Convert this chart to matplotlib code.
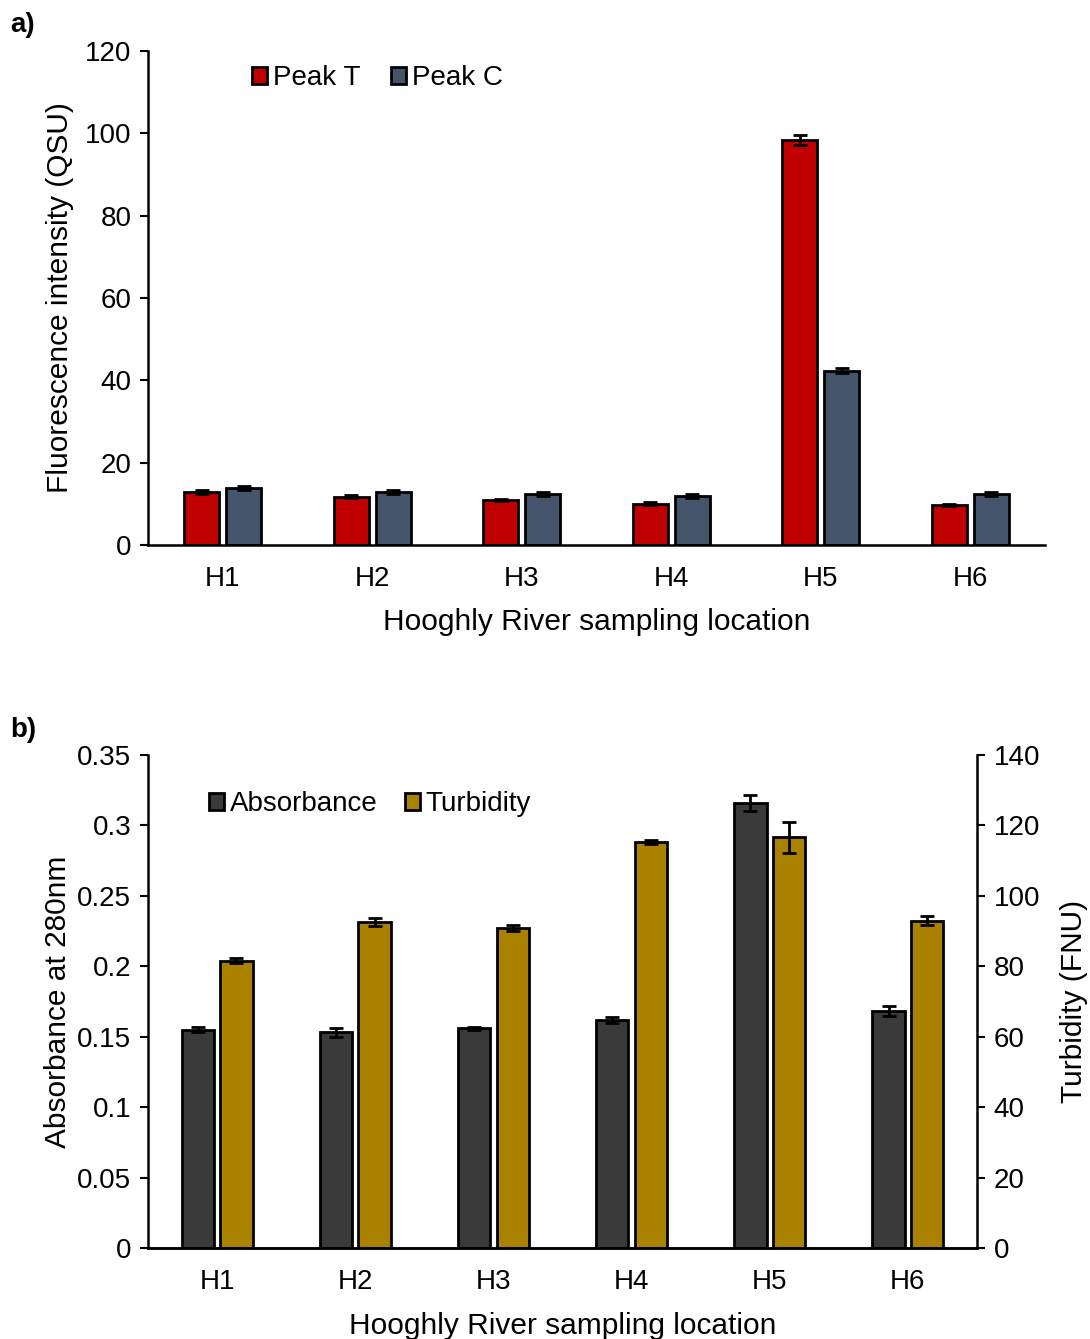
import numpy as np
import matplotlib.pyplot as plt

plt.rcParams["font.family"] = ["Liberation Sans", "DejaVu Sans"]

# data
sites = ["H1", "H2", "H3", "H4", "H5", "H6"]
peak_t = [12.9, 11.7, 10.9, 10.0, 98.4, 9.7]
peak_t_err = [0.5, 0.4, 0.3, 0.4, 1.3, 0.3]
peak_c = [13.8, 12.9, 12.4, 11.9, 42.3, 12.4]
peak_c_err = [0.5, 0.5, 0.5, 0.4, 0.6, 0.5]

absorb = [0.155, 0.153, 0.156, 0.162, 0.316, 0.168]
absorb_err = [0.002, 0.003, 0.001, 0.002, 0.0055, 0.0035]
turb = [81.6, 92.6, 90.9, 115.3, 116.7, 93.0]
turb_err = [0.8, 1.2, 0.8, 0.7, 4.4, 1.3]

red = "#C00000"
slate = "#44546A"
dark = "#3A3A3A"
gold = "#AB8200"

x = np.arange(len(sites))
w = 0.235
off = 0.14
err_kw = dict(ecolor="black", elinewidth=2, capsize=5, capthick=2)
tick_fs = 20
lab_fs = 21.5
leg_fs = 20

fig = plt.figure(figsize=(10.9, 13.39), dpi=100)

# ---- panel a
ax = fig.add_axes([148 / 1090, 1 - 545 / 1339, 897 / 1090, 494 / 1339])
ax.bar(x - off, peak_t, w, color=red, edgecolor="black", linewidth=2,
       yerr=peak_t_err, error_kw=err_kw, label="Peak T")
ax.bar(x + off, peak_c, w, color=slate, edgecolor="black", linewidth=2,
       yerr=peak_c_err, error_kw=err_kw, label="Peak C")
ax.set_xlim(-0.5, 5.5)
ax.set_ylim(0, 120)
ax.set_yticks(range(0, 121, 20))
ax.set_xticks(x)
ax.set_xticklabels(sites)
ax.spines[["top", "right"]].set_visible(False)
for s in ["left", "bottom"]:
    ax.spines[s].set_linewidth(1.8)
ax.tick_params(axis="y", labelsize=tick_fs, length=6, width=1.5, pad=6)
ax.tick_params(axis="x", labelsize=tick_fs, length=0, pad=15)
ax.set_ylabel("Fluorescence intensity (QSU)", fontsize=lab_fs, labelpad=8)
ax.set_xlabel("Hooghly River sampling location", fontsize=lab_fs, labelpad=12)
ax.legend(loc="upper left", bbox_to_anchor=(0.088, 1.022), ncol=2, frameon=False,
          fontsize=leg_fs, handlelength=0.55, handleheight=0.55, handletextpad=0.2,
          columnspacing=1.1)
fig.text(10 / 1090, 1 - 25 / 1339, "a)", fontsize=20, fontweight="bold", va="center")

# ---- panel b
bx = fig.add_axes([148 / 1090, 1 - 1248 / 1339, 829 / 1090, 493 / 1339])
bx2 = bx.twinx()
bx.bar(x - off, absorb, w, color=dark, edgecolor="black", linewidth=2,
       yerr=absorb_err, error_kw=err_kw, label="Absorbance")
bx2.bar(x + off, turb, w, color=gold, edgecolor="black", linewidth=2,
        yerr=turb_err, error_kw=err_kw, label="Turbidity")
bx.set_xlim(-0.5, 5.5)
bx.set_ylim(0, 0.35)
bx.set_yticks(np.arange(0, 0.351, 0.05))
bx.set_yticklabels(["0", "0.05", "0.1", "0.15", "0.2", "0.25", "0.3", "0.35"])
bx2.set_ylim(0, 140)
bx2.set_yticks(range(0, 141, 20))
bx.set_xticks(x)
bx.set_xticklabels(sites)
for a in (bx, bx2):
    a.spines["top"].set_visible(False)
    for s in ["left", "bottom", "right"]:
        a.spines[s].set_linewidth(1.8)
bx.spines["right"].set_visible(False)
bx2.spines["left"].set_visible(False)
bx.tick_params(axis="y", labelsize=tick_fs, length=6, width=1.5, pad=6)
bx2.tick_params(axis="y", labelsize=tick_fs, length=6, width=1.5, pad=6)
bx.tick_params(axis="x", labelsize=tick_fs, length=0, pad=15)
bx.set_ylabel("Absorbance at 280nm", fontsize=lab_fs, labelpad=4)
bx2.set_ylabel("Turbidity (FNU)", fontsize=lab_fs, labelpad=14)
bx.set_xlabel("Hooghly River sampling location", fontsize=lab_fs, labelpad=12)
h1, l1 = bx.get_legend_handles_labels()
h2, l2 = bx2.get_legend_handles_labels()
bx2.legend(h1 + h2, l1 + l2, loc="upper left", bbox_to_anchor=(0.043, 0.977), ncol=2,
           frameon=False, fontsize=leg_fs, handlelength=0.55, handleheight=0.55,
           handletextpad=0.2, columnspacing=1.0)
fig.text(10 / 1090, 1 - 730 / 1339, "b)", fontsize=20, fontweight="bold", va="center")

fig.savefig("out.png", dpi=100)
